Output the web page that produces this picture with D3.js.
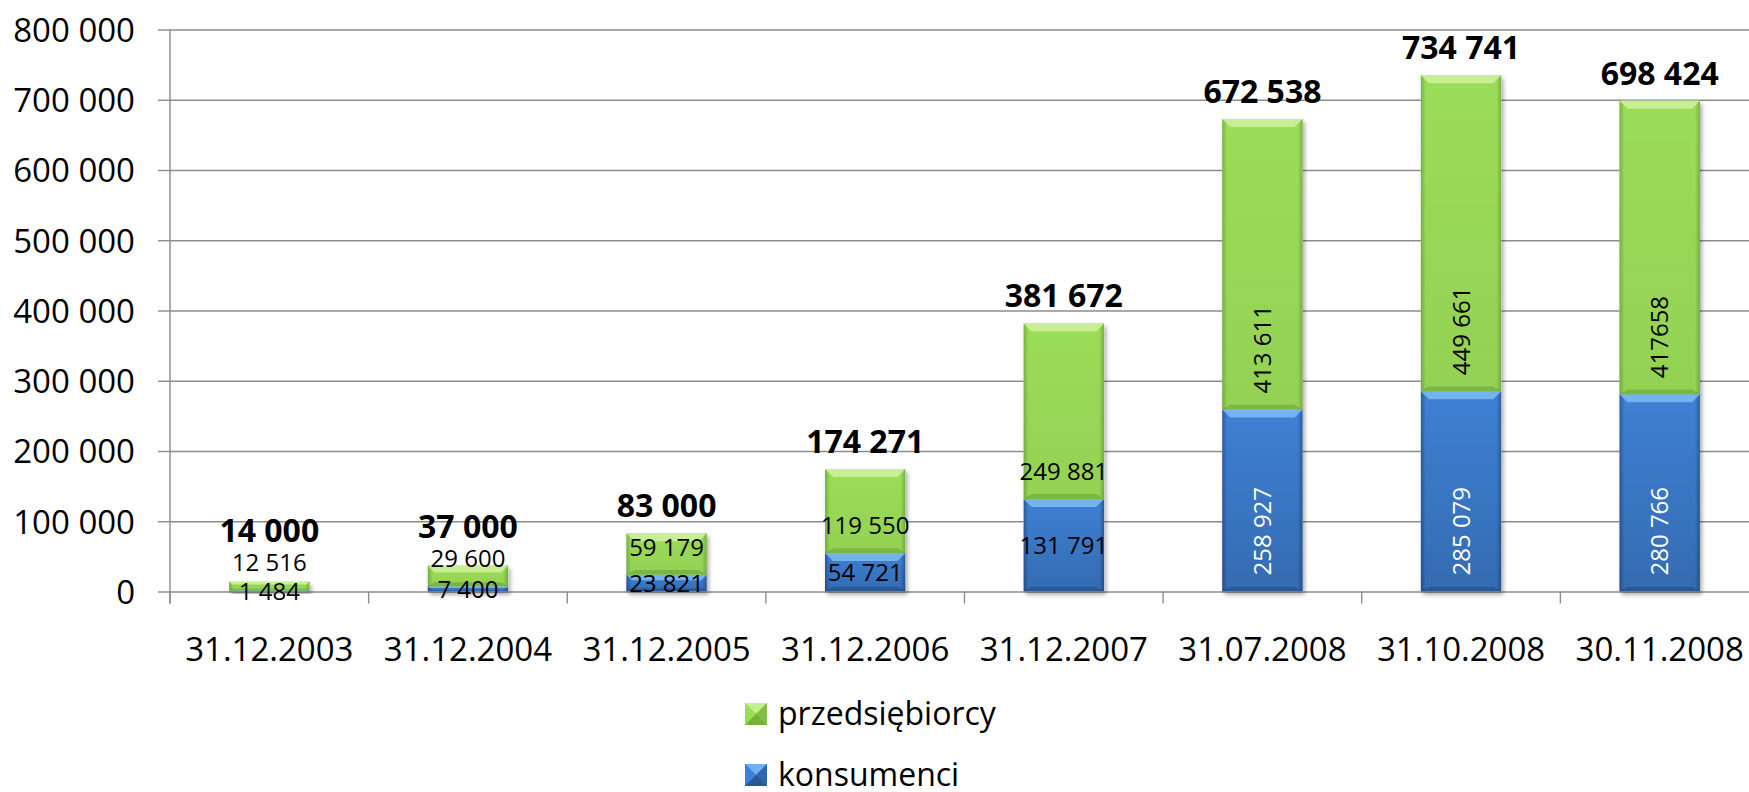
<!DOCTYPE html>
<html>
<head>
<meta charset="utf-8">
<script src="https://cdn.jsdelivr.net/npm/d3@7"></script>
<style>
  body { margin: 0; background: #fff; }
  svg { display: block; font-family: "Open Sans", sans-serif; }
</style>
</head>
<body>
<script>
// data
const categories = ["31.12.2003", "31.12.2004", "31.12.2005", "31.12.2006", "31.12.2007", "31.07.2008", "31.10.2008", "30.11.2008"];
const konsumenci = [1484, 7400, 23821, 54721, 131791, 258927, 285079, 280766];
const przedsiebiorcy = [12516, 29600, 59179, 119550, 249881, 413611, 449661, 417658];
const przedsiebiorcyLabels = ["12 516", "29 600", "59 179", "119 550", "249 881", "413 611", "449 661", "417658"];
const totals = [14000, 37000, 83000, 174271, 381672, 672538, 734741, 698424];
const yTicks = [0, 100000, 200000, 300000, 400000, 500000, 600000, 700000, 800000];
const seriesNames = ["przedsiębiorcy", "konsumenci"];

const width = 1749, height = 792;
const plotLeft = 170, plotRight = 1759, plotTop = 29.5, plotBottom = 591.5;

const fmt = d3.formatLocale({decimal: ",", thousands: "\u00a0", grouping: [3]}).format(",d");

const svg = d3.select("body").append("svg")
    .attr("width", width)
    .attr("height", height);

const defs = svg.append("defs");

// colours
const green = {face: "#9bdc58", dark: "#76b23d", light: "#d0f29e", deep: "#6aa534", shade: 0.05};
const blue = {face: "#3e80d3", dark: "#2a5c9f", light: "#7dbcf6", deep: "#234d86", shade: 0.16};

function sideGradient(id, c) {
    var g = defs.append("linearGradient").attr("id", id).attr("x1", 0).attr("x2", 1).attr("y1", 0).attr("y2", 0);
    g.append("stop").attr("offset", "0%").attr("stop-color", c.dark);
    g.append("stop").attr("offset", "6%").attr("stop-color", c.face);
    g.append("stop").attr("offset", "94%").attr("stop-color", c.face);
    g.append("stop").attr("offset", "100%").attr("stop-color", c.dark);
}
sideGradient("sideG", green);
sideGradient("sideB", blue);

function shadeGradient(id, c) {
    var vg = defs.append("linearGradient").attr("id", id).attr("x1", 0).attr("x2", 0).attr("y1", 0).attr("y2", 1);
    vg.append("stop").attr("offset", "0%").attr("stop-color", "#000").attr("stop-opacity", 0);
    vg.append("stop").attr("offset", "100%").attr("stop-color", "#000").attr("stop-opacity", c.shade);
}
shadeGradient("shadeG", green);
shadeGradient("shadeB", blue);

var shadow = defs.append("filter").attr("id", "shadow")
    .attr("x", "-10%").attr("y", "-10%").attr("width", "130%").attr("height", "130%");
shadow.append("feDropShadow").attr("dx", 2).attr("dy", 3).attr("stdDeviation", 2)
    .attr("flood-color", "#000").attr("flood-opacity", 0.35);

// scales
const x = d3.scaleBand().domain(categories).range([plotLeft, plotRight]).padding(0);
const y = d3.scaleLinear().domain([0, 800000]).range([plotBottom, plotTop]);
const barW = x.step() * 0.405;

// gridlines
svg.append("g")
    .attr("transform", "translate(" + plotLeft + ",0)")
    .call(d3.axisLeft(y).tickValues(yTicks).tickSize(-(plotRight - plotLeft)).tickFormat(""))
    .call(g => g.select(".domain").remove())
    .call(g => g.selectAll("line").attr("stroke", "#8c8c8c").attr("stroke-width", 1.4));

// y axis
svg.append("g")
    .attr("transform", "translate(" + plotLeft + ",0)")
    .call(d3.axisLeft(y).tickValues(yTicks).tickSize(12).tickPadding(23).tickFormat(fmt))
    .call(g => g.select(".domain").attr("d", "M0," + plotTop + "V" + (plotBottom + 12)).attr("stroke", "#8c8c8c").attr("stroke-width", 1.4))
    .call(g => g.selectAll("line").attr("stroke", "#8c8c8c").attr("stroke-width", 1.4))
    .call(g => g.selectAll("text").attr("font-size", 33).attr("font-family", "Open Sans").attr("fill", "#000").attr("dy", "0.36em"));

// x axis
svg.append("g")
    .attr("transform", "translate(0," + plotBottom + ")")
    .call(d3.axisBottom(x).tickSize(0).tickPadding(0))
    .call(g => g.select(".domain").remove())
    .call(g => g.selectAll("text").attr("font-size", 33).attr("font-family", "Open Sans").attr("fill", "#000").attr("y", 69).attr("dy", 0));

svg.append("g").selectAll("line")
    .data(categories.concat([null]))
    .enter().append("line")
    .attr("x1", d => d ? x(d) : x(categories[categories.length - 1]) + x.step())
    .attr("x2", d => d ? x(d) : x(categories[categories.length - 1]) + x.step())
    .attr("y1", plotBottom)
    .attr("y2", plotBottom + 12)
    .attr("stroke", "#8c8c8c")
    .attr("stroke-width", 1.4);

// stacked segments
const rows = categories.map((c, i) => ({
    cat: c,
    k: konsumenci[i],
    p: przedsiebiorcy[i],
    pLabel: przedsiebiorcyLabels[i],
    total: totals[i],
    rotated: totals[i] > 500000
}));

const segments = [];
rows.forEach(r => {
    segments.push({cat: r.cat, y0: 0, y1: r.k, c: blue, grad: "sideB", shade: "shadeB"});
    segments.push({cat: r.cat, y0: r.k, y1: r.k + r.p, c: green, grad: "sideG", shade: "shadeG"});
});

const bars = svg.append("g").attr("class", "bars");

function drawSegment(s) {
    var g = d3.select(this);
    var x0 = x(s.cat) + (x.step() - barW) / 2, x1 = x0 + barW;
    var yt = y(s.y1), yb = y(s.y0);
    var h = yb - yt;
    var b = Math.min(8, h / 3);
    g.append("rect").attr("x", x0).attr("y", yt).attr("width", barW).attr("height", h).attr("fill", "url(#" + s.grad + ")");
    g.append("rect").attr("x", x0).attr("y", yt).attr("width", barW).attr("height", h).attr("fill", "url(#" + s.shade + ")");
    g.append("polygon")
        .attr("points", [[x0, yt], [x1, yt], [x1 - b, yt + b], [x0 + b, yt + b]].join(" "))
        .attr("fill", s.c.light).attr("opacity", 0.85);
    g.append("polygon")
        .attr("points", [[x0, yb], [x1, yb], [x1 - b, yb - b * 0.6], [x0 + b, yb - b * 0.6]].join(" "))
        .attr("fill", s.c.deep).attr("opacity", 0.6);
}

// shadow under the whole stack
bars.selectAll("rect.sh")
    .data(rows)
    .enter().append("rect")
    .attr("class", "sh")
    .attr("x", d => x(d.cat) + (x.step() - barW) / 2)
    .attr("y", d => y(d.k + d.p))
    .attr("width", barW)
    .attr("height", d => y(0) - y(d.k + d.p))
    .attr("fill", "#fff")
    .attr("filter", "url(#shadow)");

bars.selectAll("g.seg")
    .data(segments)
    .enter().append("g")
    .attr("class", "seg")
    .each(drawSegment);

// labels
const labels = svg.append("g").attr("class", "labels");

rows.forEach(r => {
    var cx = x(r.cat) + x.step() / 2;
    var greenTop;
    if (r.rotated) {
        labels.append("text")
            .attr("transform", "translate(" + cx + "," + (y(r.k) - 16) + ") rotate(-90)")
            .attr("dy", "0.36em")
            .attr("font-size", 24).attr("fill", "#000")
            .text(r.pLabel);
        labels.append("text")
            .attr("transform", "translate(" + cx + "," + (y(0) - 16) + ") rotate(-90)")
            .attr("dy", "0.36em")
            .attr("font-size", 24).attr("fill", "#fff")
            .text(fmt(r.k));
        greenTop = y(r.k + r.p);
    } else {
        var base = y(r.k) - 19;
        labels.append("text")
            .attr("x", cx).attr("y", base)
            .attr("text-anchor", "middle")
            .attr("font-size", 24).attr("fill", "#000")
            .text(r.pLabel);
        labels.append("text")
            .attr("x", cx).attr("y", y(r.k / 2))
            .attr("dy", "0.36em")
            .attr("text-anchor", "middle")
            .attr("font-size", 24).attr("fill", "#000")
            .text(fmt(r.k));
        greenTop = base - 17;
    }
    labels.append("text")
        .attr("x", cx)
        .attr("y", Math.min(y(r.total) - 16, greenTop - 12))
        .attr("text-anchor", "middle")
        .attr("font-size", 32).attr("font-weight", "bold").attr("fill", "#000")
        .text(fmt(r.total));
});

// legend
const legend = svg.append("g").attr("transform", "translate(745,0)");
const legendItems = [
    {name: seriesNames[0], c: green, y: 703},
    {name: seriesNames[1], c: blue, y: 764}
];
legendItems.forEach(it => {
    var s = 22, g = legend.append("g").attr("transform", "translate(0," + it.y + ")");
    g.append("rect").attr("width", s).attr("height", s).attr("fill", it.c.face);
    g.append("polygon").attr("points", [[0, 0], [s, 0], [s / 2, s / 2]].join(" ")).attr("fill", it.c.light).attr("opacity", 0.8);
    g.append("polygon").attr("points", [[0, 0], [0, s], [s / 2, s / 2]].join(" ")).attr("fill", it.c.face);
    g.append("polygon").attr("points", [[s, 0], [s, s], [s / 2, s / 2]].join(" ")).attr("fill", it.c.dark).attr("opacity", 0.7);
    g.append("polygon").attr("points", [[0, s], [s, s], [s / 2, s / 2]].join(" ")).attr("fill", it.c.deep).attr("opacity", 0.8);
    g.append("text").attr("x", 33).attr("y", 22).attr("font-size", 32).attr("fill", "#000").text(it.name);
});
</script>
</body>
</html>
